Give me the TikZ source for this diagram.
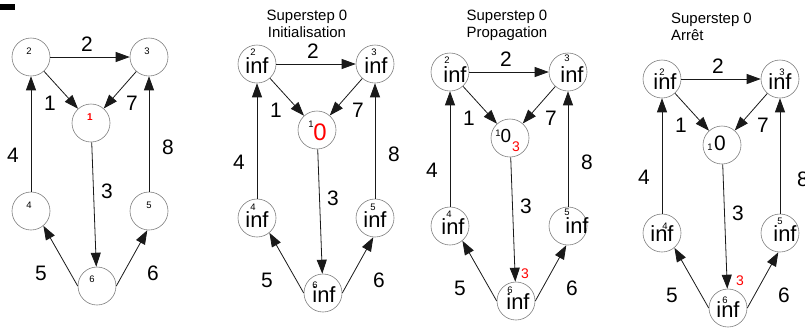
\documentclass[tikz,border=0pt]{standalone}
\usepackage{fontspec}
\setmainfont{Liberation Sans}
\usetikzlibrary{arrows.meta,calc}
\newcommand\mkverts[1]{%
  \node[vtx] (#1n2) at (0,0) {};
  \node[vtx] (#1n3) at (118,0) {};
  \node[vtx] (#1n1) at (60,66) {};
  \node[vtx] (#1n4) at (0,154) {};
  \node[vtx] (#1n5) at (118,154) {};
  \node[vtx] (#1n6) at (66,229) {};
}
\newcommand\graphweights[2]{%
  \node[wlab] (#1w2) at (56,-13) {2};
  \node[wlab] (#1w1) at (19,46) {1};
  \node[wlab] (#1w7) at (101,46) {7};
  \node[wlab] (#1w4) at (-18,98) {4};
  \node[wlab] (#1w8) at (#2) {8};
  \node[wlab] (#1w3) at (76,134) {3};
  \node[wlab] (#1w5) at (10,216) {5};
  \node[wlab] (#1w6) at (122,216) {6};
}
\newcommand\graphedges[1]{%
  \draw[arr] (#1n2) -- (#1n3);
  \draw[arr] (#1n2) -- (#1n1);
  \draw[arr] (#1n3) -- (#1n1);
  \draw[arr] (#1n4) -- (#1n2);
  \draw[arr] (#1n5) -- (#1n3);
  \draw[arr] (#1n1) -- (#1n6);
  \draw[arr] (#1n6.west) -- (#1n4.-50);
  \draw[arr] (#1n6.east) -- (#1n5.-95);
}
\begin{document}
\begin{tikzpicture}[x=1bp,y=-1bp,
  vtx/.style={circle,draw=black!50,line width=0.6bp,minimum size=38bp,inner sep=0pt},
  arr/.style={-{Triangle[length=14bp,width=10bp]},line width=0.8bp,black!90},
  wlab/.style={font=\fontsize{21}{21}\selectfont,inner sep=0pt},
  idx/.style={font=\fontsize{9.5}{10}\selectfont,inner sep=0pt},
  val/.style={font=\fontsize{22}{22}\selectfont,inner sep=0pt},
  red3/.style={font=\fontsize{14}{14}\selectfont,inner sep=0pt,text=red},
  ttl/.style={font=\fontsize{15}{17}\selectfont,inner sep=0pt}]
\fill[white] (0,0) rectangle (805,327);
\useasboundingbox (0,0) rectangle (805,327);
\fill[black] (0,4) rectangle (15,10);

% ---------- panel 1 ----------
\begin{scope}[shift={(31,57)}]
  \mkverts{a}
  \graphweights{a}{137,90}
  \node[idx] (ai2) at (-2,-6) {2};
  \node[idx] (ai3) at (116,-6) {3};
  \node[idx,text=red,font=\bfseries\fontsize{10}{10}\selectfont] (ai1) at (59,60) {1};
  \node[idx] (ai4) at (-2,148) {4};
  \node[idx] (ai5) at (118,148) {5};
  \node[idx] (ai6) at (61,222) {6};
\end{scope}
\graphedges{a}

% ---------- panel 2 ----------
\node[ttl,anchor=base] (t2a) at (307,20) {Superstep 0};
\node[ttl,anchor=base] (t2b) at (307,37.5) {Initialisation};
\begin{scope}[shift={(257,64)}]
  \mkverts{b}
  \graphweights{b}{137,90}
  \node[idx] (bi2) at (-4,-12) {2};
  \node[val] (bv2) at (0,2) {inf};
  \node[idx] (bi3) at (117,-12) {3};
  \node[val] (bv3) at (119,2) {inf};
  \node[idx] (bi1) at (54,60) {1};
  \node[val,text=red,font=\fontsize{24}{24}\selectfont] (bv1) at (63,68) {0};
  \node[idx] (bi4) at (-4,143) {4};
  \node[val] (bv4) at (0,156) {inf};
  \node[idx] (bi5) at (116,143) {5};
  \node[val] (bv5) at (118,156) {inf};
  \node[idx] (bi6) at (58,221) {6};
  \node[val] (bv6) at (67,231) {inf};
\end{scope}
\graphedges{b}

% ---------- panel 3 ----------
\node[ttl,anchor=base] (t3a) at (507,20) {Superstep 0};
\node[ttl,anchor=base] (t3b) at (507,37.5) {Propagation};
\begin{scope}[shift={(450,72)}]
  \mkverts{c}
  \graphweights{c}{137,90}
  \node[idx] (ci2) at (-3,-12) {2};
  \node[val] (cv2) at (5,3) {inf};
  \node[idx] (ci3) at (117,-14) {3};
  \node[val] (cv3) at (122,3) {inf};
  \node[idx] (ci1) at (48,61) {1};
  \node[val,font=\fontsize{19}{19}\selectfont] (cv1) at (56,64) {0};
  \node[red3] (cr1) at (66,75) {3};
  \node[idx] (ci4) at (-1,142) {4};
  \node[val] (cv4) at (3,155) {inf};
  \node[idx] (ci5) at (117,140) {5};
  \node[val] (cv5) at (127,154) {inf};
  \node[idx] (ci6) at (60,218) {6};
  \node[val] (cv6) at (68,230) {inf};
  \node[red3] (cr6) at (75,202) {3};
\end{scope}
\graphedges{c}

% ---------- panel 4 ----------
\node[ttl,anchor=base west] (t4a) at (671,23) {Superstep 0};
\node[ttl,anchor=base west] (t4b) at (671,40) {Arrêt};
\begin{scope}[shift={(662,79)}]
  \mkverts{d}
  \graphweights{d}{141,100}
  \node[idx] (di2) at (0,-7) {2};
  \node[val] (dv2) at (3,3) {inf};
  \node[idx] (di3) at (120,-7) {3};
  \node[val] (dv3) at (118,3) {inf};
  \node[idx] (di1) at (48,68) {1};
  \node[val,font=\fontsize{21}{21}\selectfont] (dv1) at (58,64) {0};
  \node[idx] (di4) at (3,147) {4};
  \node[val] (dv4) at (0,155) {inf};
  \node[idx] (di5) at (118,142) {5};
  \node[val] (dv5) at (123,155) {inf};
  \node[idx] (di6) at (63,221) {6};
  \node[val] (dv6) at (66,231) {inf};
  \node[red3] (dr6) at (78,202) {3};
\end{scope}
\graphedges{d}
\end{tikzpicture}
\end{document}
